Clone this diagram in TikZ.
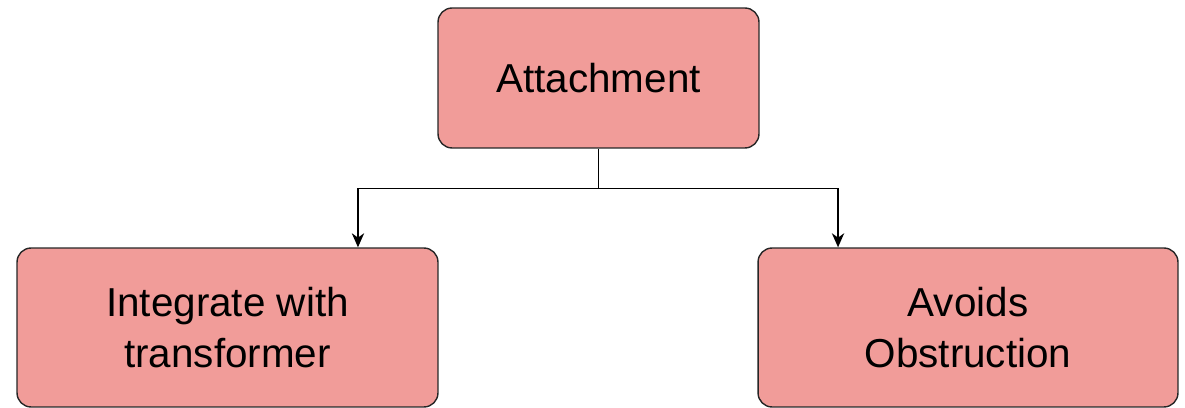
\documentclass[tikz,border=0pt]{standalone}
\usepackage{fontspec}
\setmainfont{Liberation Sans}
\usetikzlibrary{arrows.meta}
\definecolor{boxred}{HTML}{F19C99}
\tikzset{
  box/.style={draw=black!85, line width=0.8pt, fill=boxred, rounded corners=8pt,
    align=center, font=\fontsize{23}{29.5}\selectfont},
  link/.style={-{Stealth[length=8pt,width=7pt,inset=2.5pt]}, line width=0.8pt}
}
\begin{document}
\begin{tikzpicture}[x=0.02cm, y=0.02cm]
  % page is 1185 x 408 px
  \useasboundingbox (0,0) rectangle (1185,408);
  % top box "Attachment"
  \node[box, minimum width=6.42cm, minimum height=2.8cm] (attach) at (598.5,330) {Attachment};
  % two boxes in the bottom row
  \node[box, minimum width=8.42cm, minimum height=3.18cm] (integ) at (227.5,80.5) {Integrate with\\transformer};
  \node[box, minimum width=8.4cm, minimum height=3.18cm] (avoid) at (968,80.5) {Avoids\\Obstruction};

  % line down from attachment, then split left and right
  \draw[line width=0.8pt] (attach.south) -- ++(0,-40) coordinate (split);
  \draw[link] (split) -| ([xshift=2.61cm]integ.north);
  \draw[link] (split) -| ([xshift=-2.6cm]avoid.north);
\end{tikzpicture}
\end{document}
